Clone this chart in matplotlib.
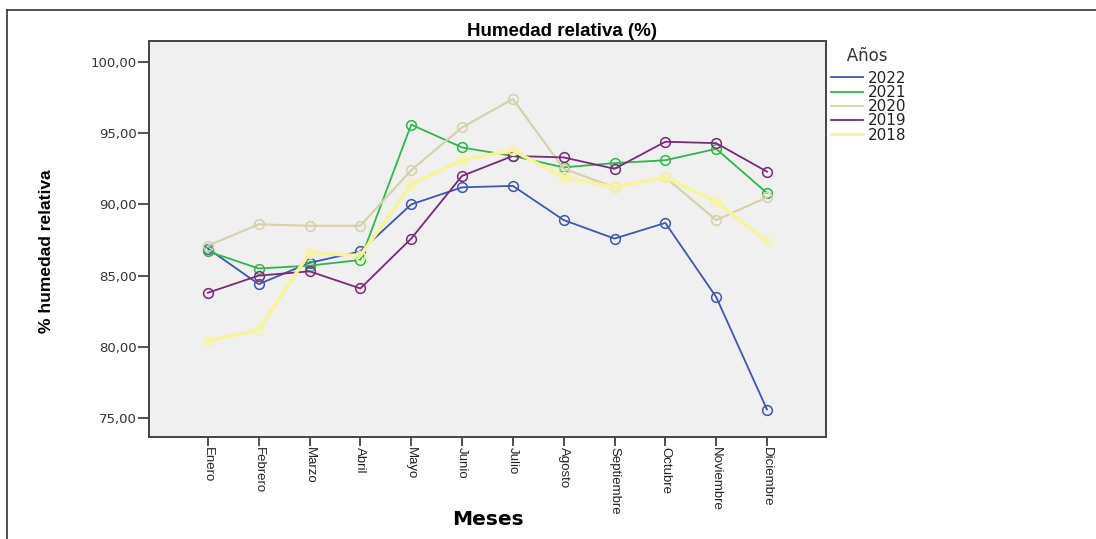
import numpy as np
import matplotlib
matplotlib.use("Agg")
import matplotlib.pyplot as plt
from matplotlib.lines import Line2D

# datos
meses = ["Enero", "Febrero", "Marzo", "Abril", "Mayo", "Junio", "Julio",
         "Agosto", "Septiembre", "Octubre", "Noviembre", "Diciembre"]
anios = ["2022", "2021", "2020", "2019", "2018"]

h2022 = [86.9, 84.4, 85.9, 86.7, 90.0, 91.2, 91.3, 88.9, 87.6, 88.7, 83.5, 75.6]
h2021 = [86.7, 85.5, 85.7, 86.1, 95.6, 94.0, 93.4, 92.6, 92.9, 93.1, 93.9, 90.8]
h2020 = [87.1, 88.6, 88.5, 88.5, 92.4, 95.4, 97.4, 92.5, 91.2, 91.9, 88.9, 90.5]
h2019 = [83.8, 85.0, 85.3, 84.1, 87.6, 92.0, 93.4, 93.3, 92.5, 94.4, 94.3, 92.3]
h2018 = [80.4, 81.2, 86.6, 86.4, 91.4, 93.1, 93.8, 91.9, 91.2, 91.9, 90.2, 87.4]

series = [h2022, h2021, h2020, h2019, h2018]
colores = ["#3E58AC", "#2EB848", "#D6D1A6", "#7C287D", "#F8F49C"]
grosor = [1.3, 1.3, 1.5, 1.3, 2.6]

narrow = ["Liberation Sans Narrow", "Liberation Sans", "DejaVu Sans"]

fig = plt.figure(figsize=(10.96, 5.39), dpi=100)
ax = fig.add_axes([0.1359, 0.1892, 0.6177, 0.7347])
ax.set_facecolor("#F0F0F0")

x = np.arange(len(meses))
for datos, c, lw in zip(series, colores, grosor):
    ax.plot(x, datos, color=c, lw=lw, marker="o", ms=7, mfc="none",
            mec=c, mew=1.1, zorder=3)

ax.set_xlim(-1.16, 12.16)
ax.set_ylim(73.67, 101.47)
ax.set_yticks([75, 80, 85, 90, 95, 100])
ax.set_yticklabels([f"{v:.2f}".replace(".", ",") for v in [75, 80, 85, 90, 95, 100]],
                   fontsize=9.5, color="#333333")
ax.set_xticks(x)
ax.set_xticklabels(meses, rotation=270, fontsize=9.5, family=narrow,
                   stretch="condensed", color="#222222", va="top", ha="center")
ax.tick_params(axis="y", length=8, width=1.2, color="#333333", pad=1)
ax.tick_params(axis="x", length=6.5, width=1.2, color="#333333", pad=1)
for s in ax.spines.values():
    s.set_color("#444444")
    s.set_linewidth(1.4)

ax.set_ylabel("% humedad relativa", family=narrow, stretch="condensed",
              fontweight="bold", fontsize=12.5, labelpad=0)
ax.yaxis.set_label_coords(-0.140, 0.47)
ax.set_xlabel("Meses", fontweight="bold", fontsize=14.5, labelpad=0)
ax.xaxis.set_label_coords(0.5, -0.185)

fig.text(562 / 1096, 1 - 31 / 539, "Humedad relativa (%)", family=narrow,
         stretch="condensed", fontweight="bold", fontsize=13.5,
         ha="center", va="center")

handles = [Line2D([], [], color=c, lw=1.3 if i < 4 else 2.0) for i, c in enumerate(colores)]
leg = ax.legend(handles, anios, loc="upper left", bbox_to_anchor=(0.999, 1.0),
                frameon=False, title="   Años", fontsize=11, title_fontsize=12,
                handlelength=2.1, handletextpad=0.3, labelspacing=-0.05,
                borderaxespad=0.0)
leg._legend_box.align = "left"
leg._legend_box.sep = 4
for t in leg.get_texts():
    t.set_color("#222222")
leg.get_title().set_color("#333333")

# marco exterior (arriba e izquierda)
fig.add_artist(Line2D([7 / 1096, 1.0], [1 - 10 / 539, 1 - 10 / 539],
                      transform=fig.transFigure, color="#333333", lw=1.2))
fig.add_artist(Line2D([7 / 1096, 7 / 1096], [0.0, 1 - 10 / 539],
                      transform=fig.transFigure, color="#333333", lw=1.2))

fig.savefig("out.png", dpi=100)
